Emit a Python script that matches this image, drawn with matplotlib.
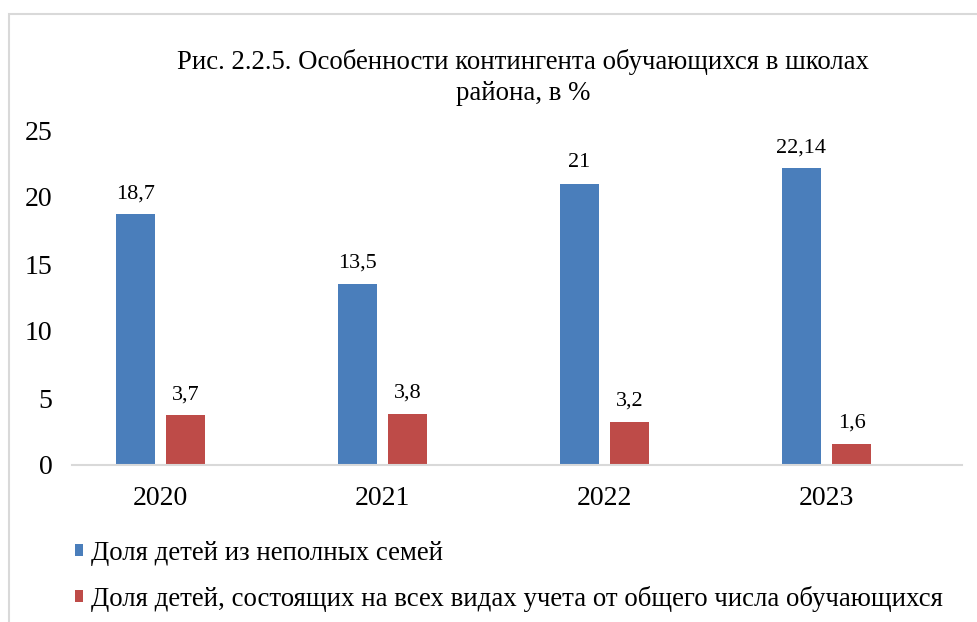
import numpy as np
import matplotlib.pyplot as plt
from matplotlib.patches import Rectangle

years = ['2020', '2021', '2022', '2023']
incomplete = [18.7, 13.5, 21, 22.14]
registered = [3.7, 3.8, 3.2, 1.6]
incomplete_lbl = ['18,7', '13,5', '21', '22,14']
registered_lbl = ['3,7', '3,8', '3,2', '1,6']
series_names = ['Доля детей из неполных семей',
                'Доля детей, состоящих на всех видах учета от общего числа обучающихся']
title = 'Рис. 2.2.5. Особенности контингента обучающихся в школах\nрайона, в %'

plt.rcParams['font.family'] = ['Liberation Serif', 'DejaVu Serif']

W, H = 978, 622
fig = plt.figure(figsize=(W / 100, H / 100), dpi=100)
ax = fig.add_axes([72 / W, 1 - 465 / H, (962 - 72) / W, (465 - 130) / H])

# outer chart frame (cut off at right and bottom in the source)
fig.patches.append(Rectangle((9 / W, -0.1), 1.2, 1 - 14 / H + 0.1, transform=fig.transFigure,
                             fill=False, edgecolor='#d9d9d9', linewidth=1.5))

x = np.arange(len(years))
w = 0.175
b1 = ax.bar(x - 0.115, incomplete, w, color='#4a7ebb', label=series_names[0])
b2 = ax.bar(x + 0.113, registered, w, color='#be4b48', label=series_names[1])
ax.bar_label(b1, labels=incomplete_lbl, padding=8, fontsize=16)
ax.bar_label(b2, labels=registered_lbl, padding=8, fontsize=16)

ax.set_xlim(-0.40, 3.61)
ax.set_ylim(0, 25)
ax.set_yticks([0, 5, 10, 15, 20, 25])
ax.set_xticks(x)
ax.set_xticklabels(years)
ax.tick_params(axis='both', length=0, labelsize=20)
ax.tick_params(axis='y', pad=14)
ax.tick_params(axis='x', pad=15)
for s in ['top', 'right', 'left']:
    ax.spines[s].set_visible(False)
ax.spines['bottom'].set_color('#d9d9d9')
ax.spines['bottom'].set_linewidth(1.5)

fig.text(523 / W, 1 - 49 / H, title, ha='center', va='top', fontsize=19.3, linespacing=1.32)

fig.legend(loc='upper left', bbox_to_anchor=(64 / W, 1 - 530 / H), frameon=False,
           fontsize=19.4, handlelength=0.32, handleheight=0.32, handletextpad=0.3,
           labelspacing=0.75, borderaxespad=0)

fig.savefig('out.png', dpi=100)
